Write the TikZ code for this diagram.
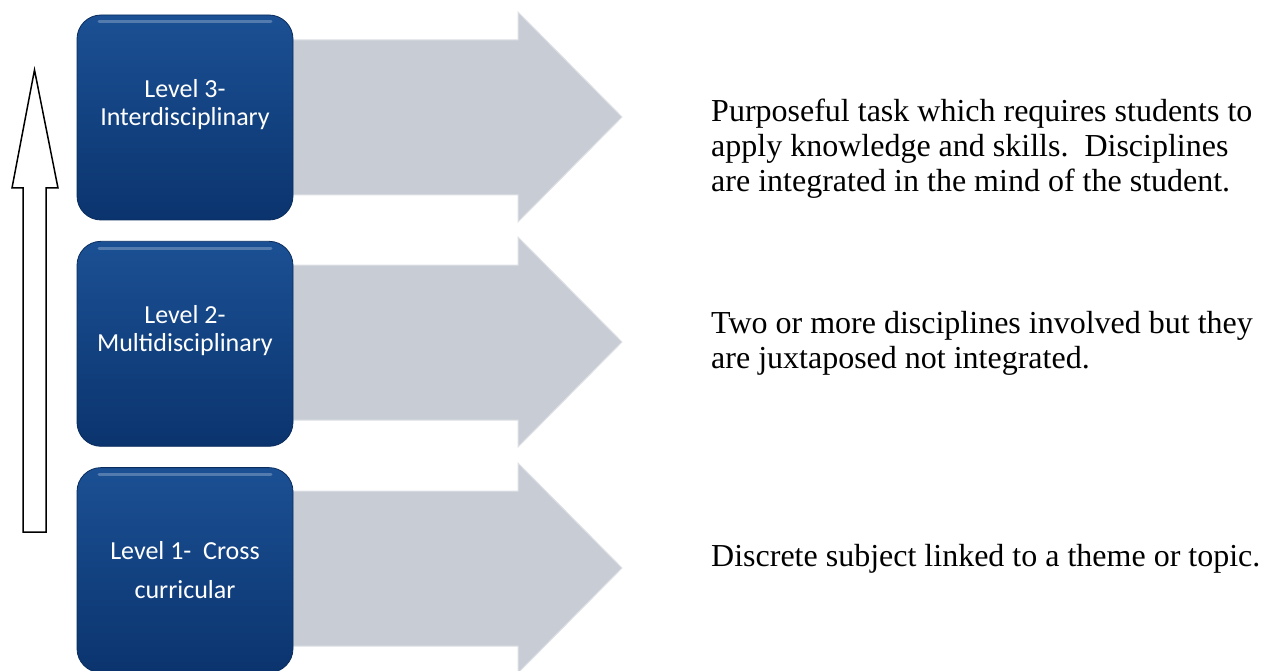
\documentclass[tikz,border=0pt]{standalone}
\usepackage{fontspec}
\setmainfont{Liberation Serif}
\newfontfamily\boxfont{Carlito}
\usepackage{tikz}
\usetikzlibrary{positioning}

\definecolor{levtop}{RGB}{27,80,148}
\definecolor{levbot}{RGB}{11,52,110}
\definecolor{arrowgray}{RGB}{200,204,212}

\begin{document}
\begin{tikzpicture}[x=1pt, y=-1pt,
    node distance=20.5pt,
    levelbox/.style={rectangle, rounded corners=24pt, minimum width=216pt, minimum height=205pt,
        top color=levtop, bottom color=levbot, draw=levbot!85!black, line width=0.8pt,
        text=white, align=center, font=\boxfont\fontsize{26}{28}\selectfont,
        path picture={\draw[white, opacity=0.25, line width=3pt, line cap=round]
            ([xshift=22pt,yshift=-7pt]path picture bounding box.north west) --
            ([xshift=-22pt,yshift=-7pt]path picture bounding box.north east);}},
    desc/.style={anchor=base west, inner sep=0pt, align=left, font=\fontsize{32}{35}\selectfont},
    grayarrow/.style={fill=arrowgray, draw=arrowgray!60!white, line width=1pt, line join=miter},
    ]
    \useasboundingbox (0,0) rectangle (1261,671);

    % gray arrows behind the boxes
    \foreach \t in {15,240,466}
        \draw[grayarrow] (185,\t+25) -- (518,\t+25) -- (518,\t-3) -- (622,\t+102)
            -- (518,\t+207) -- (518,\t+180) -- (185,\t+180) -- cycle;

    % level boxes (empty last row lifts the text a little)
    \node[levelbox] (l3) at (185,117.5) {Level 3-\\Interdisciplinary\\[2pt]{}};
    \node[levelbox] (l2) [below=of l3] {Level 2-\\Multidisciplinary\\[2pt]{}};
    \node[levelbox] (l1) [below=of l2] {Level 1-~~Cross\\[11pt]curricular};

    % descriptions (base = last line)
    \node[desc] (d3) at (711,192) {Purposeful task which requires students to\\apply knowledge and skills.~~Disciplines\\are integrated in the mind of the student.};
    \node[desc] (d2) at (711,368) {Two or more disciplines involved but they\\are juxtaposed not integrated.};
    \node[desc] (d1) at (711,566) {Discrete subject linked to a theme or topic.};

    % upward arrow on the left
    \draw[fill=white, line width=1.5pt, line join=miter] (23,532) -- (23,188) -- (12,188)
        -- (34.5,70) -- (58,188) -- (46,188) -- (46,532) -- cycle;
\end{tikzpicture}
\end{document}
